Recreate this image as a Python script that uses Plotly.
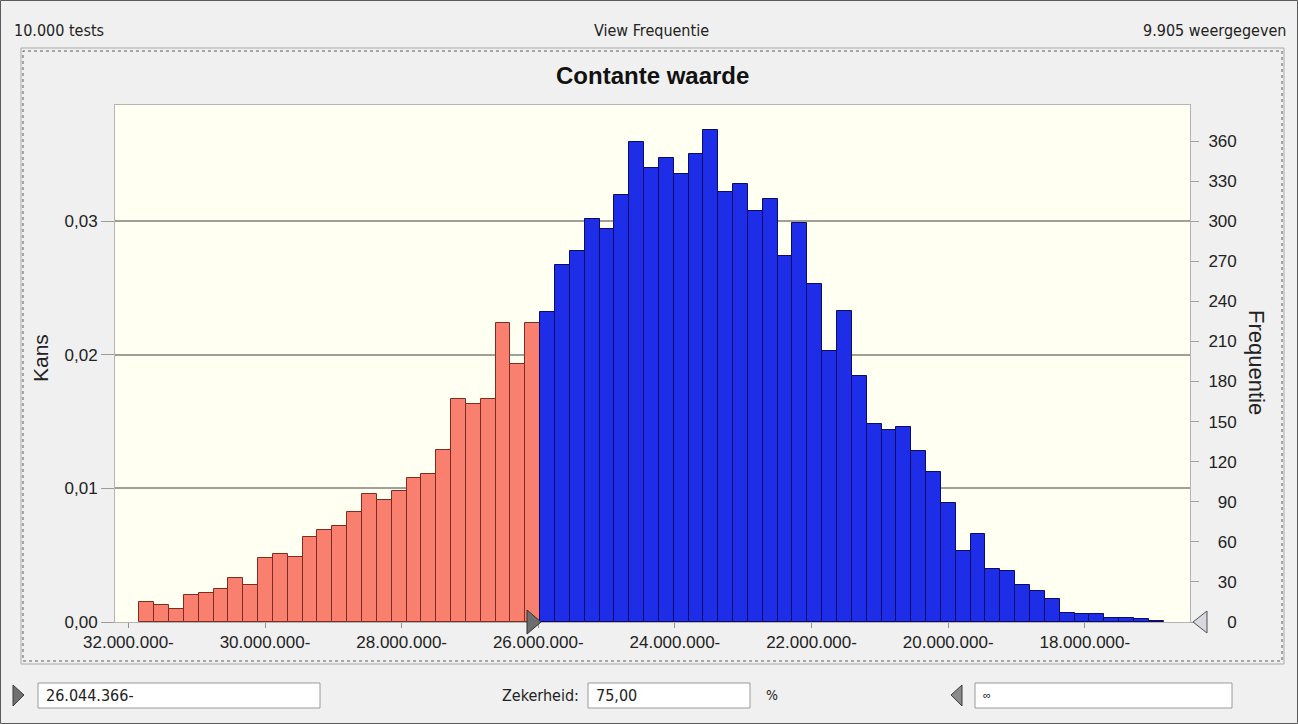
import plotly.graph_objects as go

# ---------------- data ----------------
freq_below = [15, 13, 10, 20, 22, 25, 33, 28, 48, 51, 49, 64, 69, 72, 82, 96, 91, 98,
              108, 111, 129, 167, 163, 167, 224, 193, 224]
freq_above = [232, 267, 278, 302, 294, 320, 359, 340, 347, 335, 350, 368, 322, 328, 308,
              317, 274, 299, 253, 203, 233, 184, 148, 144, 146, 128, 112, 89, 53, 66,
              40, 38, 28, 23, 17, 7, 6, 6, 3, 3, 2, 1]
first_bin_start = -31.84e6
bin_width = 0.2173e6
n_tests = 10000
x_tick_vals = [-32e6, -30e6, -28e6, -26e6, -24e6, -22e6, -20e6, -18e6]
kans_ticks = [0.00, 0.01, 0.02, 0.03]
freq_ticks = list(range(0, 361, 30))
cutoff_text = "26.044.366-"
certainty_text = "75,00"

# ---------------- geometry helpers ----------------
W, H = 1298, 724
L, R, T, B = 115, 1190, 105, 622
PW, PH = R - L, B - T


def px(x):
    return (x - L) / PW


def py(y):
    return (B - y) / PH


def fmt_money(v):
    return f"{abs(v):,.0f}".replace(",", ".") + "-"


centers_below = [first_bin_start + (i + 0.5) * bin_width for i in range(len(freq_below))]
off = len(freq_below)
centers_above = [first_bin_start + (off + i + 0.5) * bin_width for i in range(len(freq_above))]

FONT = "Liberation Sans, Arial, sans-serif"
NARROW = "DejaVu Sans Condensed, Liberation Sans Narrow, Liberation Sans, Arial, sans-serif"
TXT = "#222222"
TICK = 17
FIG_SPACE = "\u2007"  # digit-wide space, used to right-align the right-hand labels

fig = go.Figure()
fig.add_trace(go.Bar(x=centers_below, y=freq_below, width=bin_width, yaxis="y2",
                     marker=dict(color="#F97F6F", line=dict(color="#7E2C22", width=1)),
                     hoverinfo="x+y", showlegend=False))
fig.add_trace(go.Bar(x=centers_above, y=freq_above, width=bin_width, yaxis="y2",
                     marker=dict(color="#1D2DE8", line=dict(color="#0C0C66", width=1)),
                     hoverinfo="x+y", showlegend=False))
fig.add_trace(go.Scatter(x=[x_tick_vals[0]], y=[0], mode="markers",
                         marker=dict(opacity=0), showlegend=False, hoverinfo="skip"))

fig.update_layout(
    width=W, height=H,
    margin=dict(l=L, r=W - R, t=T, b=H - B, pad=0),
    paper_bgcolor="#F0F0F0",
    plot_bgcolor="#FFFFF2",
    bargap=0,
    barmode="overlay",
    font=dict(family=FONT, size=TICK, color=TXT),
    xaxis=dict(range=[-32.196e6, -16.46e6], tickvals=x_tick_vals,
               ticktext=[fmt_money(v) for v in x_tick_vals],
               ticks="outside", ticklen=5, tickcolor="#909090",
               showgrid=False, zeroline=False, showline=True, linecolor="#B4B4B4",
               mirror=True, tickfont=dict(size=TICK, family=FONT, color=TXT)),
    yaxis=dict(range=[0, 387 / n_tests], tickvals=kans_ticks,
               ticktext=[f"{v:.2f}".replace(".", ",") for v in kans_ticks],
               ticks="outside", ticklen=13, tickcolor="#9C9C96",
               showgrid=True, gridcolor="#A09F98", gridwidth=1.6,
               zeroline=False, showline=True, linecolor="#B4B4B4",
               tickfont=dict(size=TICK, family=FONT, color=TXT)),
    yaxis2=dict(range=[0, 387], overlaying="y", side="right", tickvals=freq_ticks,
                ticktext=[str(v).rjust(3, FIG_SPACE) for v in freq_ticks],
                ticks="outside", ticklen=8, tickcolor="#A0A0A0", ticklabelstandoff=6,
                showgrid=False, zeroline=False, showline=True, linecolor="#B4B4B4",
                tickfont=dict(size=TICK, family=FONT, color=TXT)),
)

ann = []
ann.append(dict(text="10.000 tests", x=px(12), y=py(31), xanchor="left", yanchor="middle",
                font=dict(family=NARROW, size=16, color=TXT)))
ann.append(dict(text="View Frequentie", x=px(651), y=py(31), xanchor="center", yanchor="middle",
                font=dict(family=NARROW, size=16, color=TXT)))
ann.append(dict(text="9.905 weergegeven", x=px(1288), y=py(31), xanchor="right", yanchor="middle",
                font=dict(family=NARROW, size=16, color=TXT)))
ann.append(dict(text="<b>Contante waarde</b>", x=px(652), y=py(75), xanchor="center",
                yanchor="middle", font=dict(family=FONT, size=24, color="#111111")))
ann.append(dict(text="Kans", x=px(40), y=py(358), textangle=-90, xanchor="center",
                yanchor="middle", font=dict(family=FONT, size=21, color=TXT)))
ann.append(dict(text="Frequentie", x=px(1257), y=py(362), textangle=90, xanchor="center",
                yanchor="middle", font=dict(family=FONT, size=22, color=TXT)))
ann.append(dict(text=cutoff_text, x=px(44), y=py(695), xanchor="left", yanchor="middle",
                font=dict(family=NARROW, size=16, color=TXT)))
ann.append(dict(text="Zekerheid:", x=px(581), y=py(695), xanchor="right", yanchor="middle",
                font=dict(family=NARROW, size=16, color=TXT)))
ann.append(dict(text=certainty_text, x=px(594), y=py(695), xanchor="left", yanchor="middle",
                font=dict(family=NARROW, size=16, color=TXT)))
ann.append(dict(text="%", x=px(772), y=py(695), xanchor="center", yanchor="middle",
                font=dict(family=NARROW, size=14, color=TXT)))
ann.append(dict(text="∞", x=px(981), y=py(695), xanchor="left", yanchor="middle",
                font=dict(family=FONT, size=11, color=TXT)))
for a in ann:
    a.update(xref="paper", yref="paper", showarrow=False)
fig.update_layout(annotations=ann)


def rect(x0, y0, x1, y1, **kw):
    return dict(type="rect", xref="paper", yref="paper", x0=px(x0), x1=px(x1),
                y0=py(y1), y1=py(y0), **kw)


def path(points, **kw):
    d = "M " + " L ".join(f"{px(a):.5f},{py(b):.5f}" for a, b in points) + " Z"
    return dict(type="path", xref="paper", yref="paper", path=d, **kw)


shapes = [
    rect(0.5, 0.5, W - 0.5, H - 0.5, line=dict(color="#5A5A5A", width=1), layer="above"),
    rect(21, 48, 1284, 664, line=dict(color="#A8A8A8", width=1), layer="below"),
    rect(23, 51, 1282, 661, line=dict(color="#5A5A5A", width=1, dash="dot"), layer="below"),
    rect(38, 683, 320, 708, line=dict(color="#9A9A9A", width=1), fillcolor="#FFFFFF", layer="below"),
    rect(588, 683, 750, 708, line=dict(color="#9A9A9A", width=1), fillcolor="#FFFFFF", layer="below"),
    rect(975, 683, 1232, 708, line=dict(color="#9A9A9A", width=1), fillcolor="#FFFFFF", layer="below"),
    path([(13, 685), (24, 695), (13, 706)], line=dict(color="#3C3C3C", width=1), fillcolor="#707070"),
    path([(962, 685), (951, 695), (962, 706)], line=dict(color="#3C3C3C", width=1), fillcolor="#8A8A8A"),
    path([(527, 610), (541, 622), (527, 634)], line=dict(color="#303030", width=1),
         fillcolor="#6E6E6E", layer="above"),
    path([(1207, 611), (1193, 622), (1207, 633)], line=dict(color="#505050", width=1),
         fillcolor="#D8D8E0", layer="above"),
]
fig.update_layout(shapes=shapes)

fig.write_html("out.html", config={"displayModeBar": False},
               post_script="document.body.style.margin='0px';document.body.style.overflow='hidden';")
